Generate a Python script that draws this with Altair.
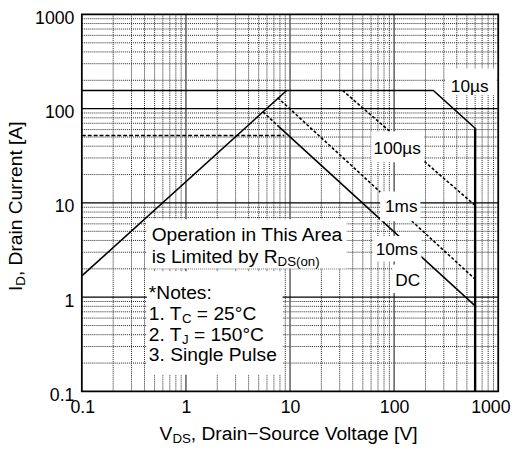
import altair as alt
import pandas as pd

FONT = "Liberation Sans"

# ---------------- values ----------------
AXIS_TICKS = [0.1, 1, 10, 100, 1000]
DECADES = [0.1, 1, 10, 100]
MAJOR_INNER = [1, 10, 100]
MINOR = [round(d * k, 4) for d in DECADES for k in range(2, 10)]

# R_DS(on) limit
rds_v = [0.1, 9.28]
rds_i = [1.68, 156]
# 10 us / pulsed drain current limit
pulse_v = [0.1, 238, 600]
pulse_i = [156, 156, 62]
# breakdown voltage limit
bv_v = [600, 600]
bv_i = [62, 0.1]
# continuous current limit (dashed)
cont_v = [0.1, 8.8]
cont_i = [52, 52]
# 100 us (dashed)
us100_v = [32, 600]
us100_i = [156, 9.4]
# 1 ms (dashed)
ms1_v = [7.6, 600]
ms1_i = [131, 1.55]
# 10 ms (dashed part)
ms10_v = [5.5, 7.8]
ms10_i = [92.5, 64.5]
# 10 ms / DC (solid)
dc_v = [7.8, 600]
dc_i = [64.5, 0.81]

label_text = ["10\u00b5s", "100\u00b5s", "1ms", "10ms", "DC"]
label_v = [532, 107, 117, 106, 135]
label_i = [149.6, 32.9, 7.96, 2.83, 1.327]

# white label backgrounds (data units)
box_v1 = [308, 60.3, 73.3, 63, 97.3, 0.421, 0.421]
box_v2 = [957, 195, 179, 183, 191, 35.0, 8.49]
box_i1 = [139, 27.1, 6.41, 2.39, 1.107, 2.02, 0.1507]
box_i2 = [267, 57.2, 13.2, 4.47, 2.22, 6.72, 1.88]

# ---------------- chart ----------------
xs = alt.Scale(type="log", domain=[0.1, 1000])
ys = alt.Scale(type="log", domain=[0.1, 1000])
xaxis = alt.Axis(values=AXIS_TICKS, format="~g", grid=False, ticks=False, domain=False,
                 labelFont=FONT, labelFontSize=18, labelColor="black", labelPadding=7,
                 labelFlush=True, labelFlushOffset=12, title=None)
yaxis = alt.Axis(values=AXIS_TICKS, format="~g", grid=False, ticks=False, domain=False,
                 labelFont=FONT, labelFontSize=18, labelColor="black", labelPadding=8,
                 labelOffset=4, title=None)


def X(f="V"):
    return alt.X(f"{f}:Q", scale=xs, axis=xaxis)


def Y(f="I"):
    return alt.Y(f"{f}:Q", scale=ys, axis=yaxis)


layers = []

# grid
layers.append(alt.Chart(pd.DataFrame({"V": MINOR})).mark_rule(
    color="#222", strokeWidth=1, strokeDash=[1, 1]).encode(x=X()))
layers.append(alt.Chart(pd.DataFrame({"I": MINOR})).mark_rule(
    color="#222", strokeWidth=1, strokeDash=[1, 1]).encode(y=Y()))
layers.append(alt.Chart(pd.DataFrame({"V": MAJOR_INNER})).mark_rule(
    color="#666", strokeWidth=1.6).encode(x=X()))
layers.append(alt.Chart(pd.DataFrame({"I": MAJOR_INNER})).mark_rule(
    color="#000", strokeWidth=1.2).encode(y=Y()))


def line_layer(v, i, dash=None, width=1.6):
    df = pd.DataFrame({"V": v, "I": i, "k": list(range(len(v)))})
    mk = dict(color="black", strokeWidth=width, clip=True)
    if dash:
        mk["strokeDash"] = dash
    return alt.Chart(df).mark_line(**mk).encode(x=X(), y=Y(), order="k:Q")


layers += [
    line_layer(rds_v, rds_i),
    line_layer(pulse_v, pulse_i),
    line_layer(bv_v, bv_i, width=2.4),
    line_layer(cont_v, cont_i, dash=[4, 2]),
    line_layer(us100_v, us100_i, dash=[3, 2]),
    line_layer(ms1_v, ms1_i, dash=[3, 2]),
    line_layer(ms10_v, ms10_i, dash=[3, 2]),
    line_layer(dc_v, dc_i),
]

# white boxes behind the labels
boxes = pd.DataFrame({"V1": box_v1, "V2": box_v2, "I1": box_i1, "I2": box_i2})
layers.append(alt.Chart(boxes).mark_rect(fill="white").encode(
    x=X("V1"), x2="V2", y=Y("I1"), y2="I2"))

# curve labels
labels = pd.DataFrame({"t": label_text, "V": label_v, "I": label_i})
layers.append(alt.Chart(labels).mark_text(
    font=FONT, fontSize=17.5, color="black", align="center", baseline="alphabetic"
).encode(x=X(), y=Y(), text="t:N"))


def dtext(v, i, text, dx=0, dy=0, size=19.5):
    return alt.Chart(pd.DataFrame({"V": [v], "I": [i]})).mark_text(
        text=text, font=FONT, fontSize=size, color="black", align="left",
        baseline="alphabetic", dx=dx, dy=dy).encode(x=X(), y=Y())


SUB = 13.5
layers += [
    dtext(0.469, 3.91, "Operation in This Area"),
    dtext(0.469, 2.33, "is Limited by R"),
    dtext(0.469, 2.33, "DS(on)", dx=127.9, dy=3, size=SUB),
    dtext(0.44, 0.959, "*Notes:"),
    dtext(0.44, 0.569, "1. T"),
    dtext(0.44, 0.569, "C", dx=33.6, dy=3, size=SUB),
    dtext(0.44, 0.569, "= 25\u00b0C", dx=48.8),
    dtext(0.44, 0.343, "2. T"),
    dtext(0.44, 0.343, "J", dx=33.6, dy=3, size=SUB),
    dtext(0.44, 0.343, "= 150\u00b0C", dx=45.8),
    dtext(0.44, 0.212, "3. Single Pulse"),
]

# frame
frame = pd.DataFrame({"V1": [0.1], "V2": [1000], "I1": [0.1], "I2": [1000]})
layers.append(alt.Chart(frame).mark_rect(fillOpacity=0, stroke="black", strokeWidth=1.8).encode(
    x=X("V1"), x2="V2", y=Y("I1"), y2="I2"))


def ptext(px, py, text, dx=0, dy=0, size=19.5, angle=0):
    return alt.Chart(pd.DataFrame({"a": [0]})).mark_text(
        text=text, font=FONT, fontSize=size, color="black", align="left",
        baseline="alphabetic", dx=dx, dy=dy, angle=angle).encode(
        x=alt.value(px), y=alt.value(py))


# axis titles with subscripts
layers += [
    ptext(79, 432, "V"),
    ptext(79, 432, "DS", dx=13.0, dy=3, size=SUB),
    ptext(79, 432, ", Drain\u2212Source Voltage [V]", dx=31.75),
    ptext(-61, 281, "I", angle=270),
    ptext(-61, 281, "D", dx=5.42, dy=3, size=SUB, angle=270),
    ptext(-61, 281, ", Drain Current [A]", dx=15.17, angle=270),
]

chart = alt.layer(*layers).properties(
    width=423, height=383,
    autosize=alt.AutoSizeParams(type="none"),
    padding={"left": 75, "top": 3, "right": 15, "bottom": 59},
    background="white",
).configure_view(stroke="transparent")

chart.save("out.html", embed_options={"renderer": "svg", "actions": False})
